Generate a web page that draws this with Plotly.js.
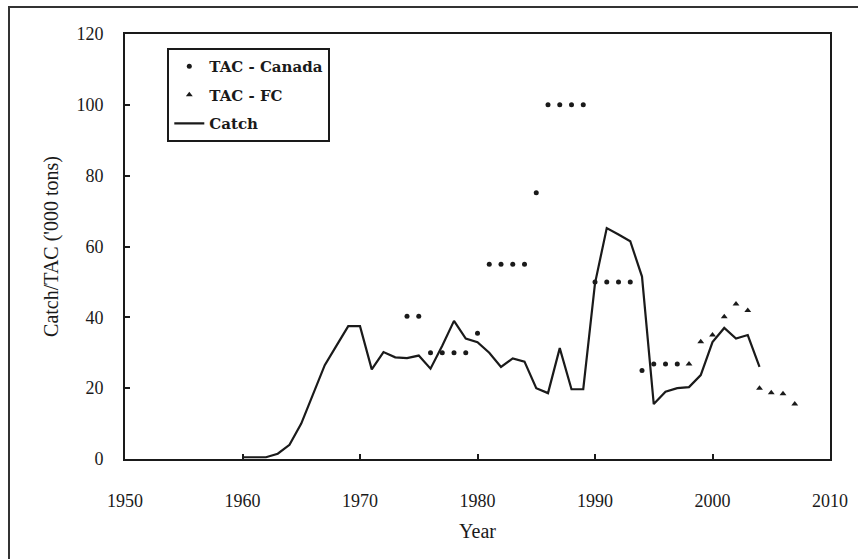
<!DOCTYPE html>
<html>
<head>
<meta charset="utf-8">
<script src="https://cdn.plot.ly/plotly-3.0.1.min.js"></script>
<style>
  html, body { margin: 0; padding: 0; background: #fff; }
  #wrap { position: relative; width: 858px; height: 559px; overflow: hidden; }
  #frame { position: absolute; left: 8px; top: 6px; width: 860px; height: 570px;
           border-left: 2px solid #333; border-top: 2px solid #333; pointer-events: none; }
  #chart { position: absolute; left: 0; top: 0; width: 858px; height: 559px; }
</style>
</head>
<body>
<div id="wrap">
  <div id="chart"></div>
  <div id="frame"></div>
</div>
<script>
// Catch series
const catchYears = [1960,1961,1962,1963,1964,1965,1966,1967,1968,1969,1970,1971,1972,1973,1974,1975,1976,1977,1978,1979,1980,1981,1982,1983,1984,1985,1986,1987,1988,1989,1990,1991,1992,1993,1994,1995,1996,1997,1998,1999,2000,2001,2002,2003,2004];
const catchValues = [0.5,0.5,0.5,1.5,4,10,18.5,26.5,32,37.5,37.5,25.3,30.2,28.7,28.5,29.2,25.5,32,39,34,33,30,26,28.4,27.5,20,18.6,31.3,19.7,19.7,49.6,65.2,63.4,61.5,51.5,15.5,19,20,20.3,23.7,33,37,34,35,26];

// TAC - Canada
const tacCanadaYears = [1974,1975,1976,1977,1978,1979,1980,1981,1982,1983,1984,1985,1986,1987,1988,1989,1990,1991,1992,1993,1994,1995,1996,1997];
const tacCanadaValues = [40.3,40.3,30,30,30,30,35.5,55,55,55,55,75.2,100,100,100,100,50,50,50,50,25,26.8,26.8,26.8];

// TAC - FC
const tacFCYears = [1998,1999,2000,2001,2002,2003,2004,2005,2006,2007];
const tacFCValues = [26.8,33.1,35,40.2,43.8,41.9,20,18.7,18.4,15.5];

const xTicks = [1950,1960,1970,1980,1990,2000,2010];
const yTicks = [0,20,40,60,80,100,120];

const serif = "Liberation Serif, Times New Roman, serif";
const ink = "#1a1a1a";

const traces = [
  {
    type: "scatter", mode: "markers", name: "TAC - Canada",
    x: tacCanadaYears, y: tacCanadaValues, legendgroup: "a",
    marker: { symbol: "circle", size: 5, color: ink }
  },
  {
    type: "scatter", mode: "markers", name: "TAC - FC",
    x: tacFCYears, y: tacFCValues, legendgroup: "b",
    marker: { symbol: "triangle-up", size: 6, color: ink }
  },
  {
    type: "scatter", mode: "lines", name: "Catch",
    x: catchYears, y: catchValues, legendgroup: "c",
    line: { color: ink, width: 2.2 }
  }
];

const layout = {
  width: 858, height: 559,
  margin: { l: 125, r: 28, t: 34, b: 100 },
  paper_bgcolor: "#fff", plot_bgcolor: "#fff",
  showlegend: true,
  legend: {
    x: 0.06, y: 0.967, xanchor: "left", yanchor: "top",
    bgcolor: "#fff", bordercolor: ink, borderwidth: 2,
    font: { family: "DejaVu Serif, serif", size: 15, color: ink, weight: "bold" },
    tracegroupgap: 6, traceorder: "grouped", itemwidth: 30
  },
  xaxis: {
    range: [1950, 2010], tickvals: xTicks, ticktext: xTicks.map(String),
    ticks: "inside", ticklen: 5, tickwidth: 2, tickcolor: ink,
    showline: true, linecolor: ink, linewidth: 2, mirror: true,
    showgrid: false, zeroline: false,
    ticklabelstandoff: 24,
    tickfont: { family: serif, size: 18, color: ink },
    title: { text: "Year", font: { family: serif, size: 20, color: ink }, standoff: 14 }
  },
  yaxis: {
    range: [0, 120], tickvals: yTicks, ticktext: yTicks.map(String),
    ticks: "inside", ticklen: 5, tickwidth: 2, tickcolor: ink,
    showline: true, linecolor: ink, linewidth: 2, mirror: true,
    showgrid: false, zeroline: false,
    ticklabelstandoff: 16,
    tickfont: { family: serif, size: 18, color: ink },
    title: { text: "Catch/TAC ('000 tons)", font: { family: serif, size: 20, color: ink }, standoff: 12 }
  }
};

Plotly.newPlot("chart", traces, layout, { displayModeBar: false, staticPlot: true });
</script>
</body>
</html>
